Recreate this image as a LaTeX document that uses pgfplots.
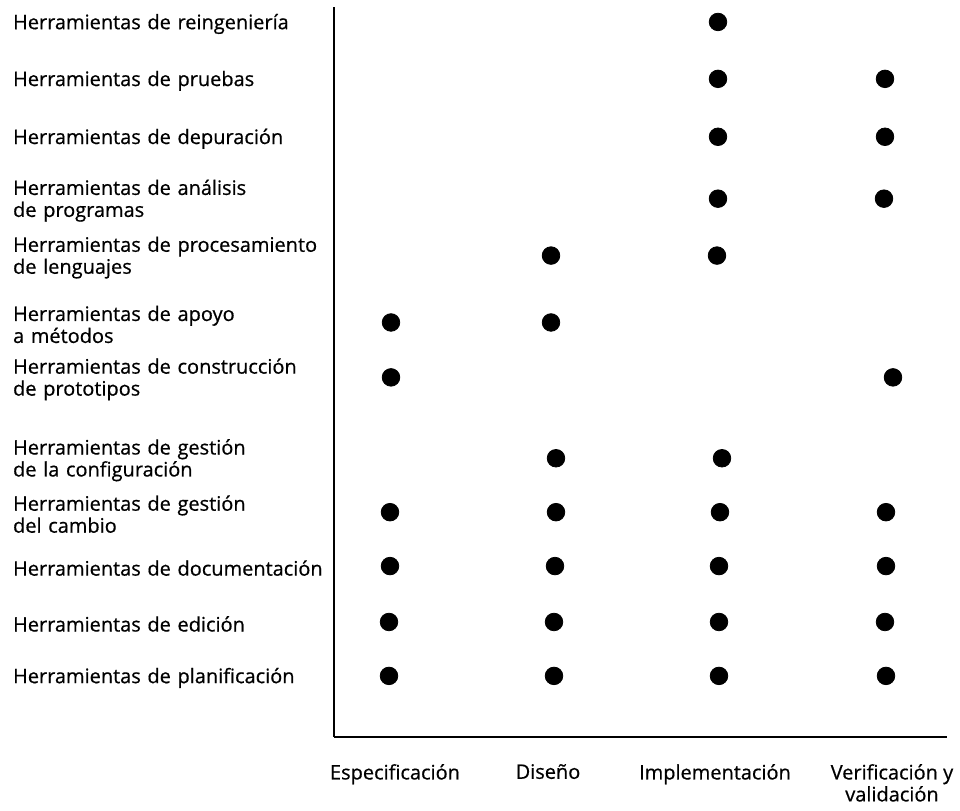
\documentclass[border=0pt]{standalone}
\usepackage{fontspec}
\setmainfont{Open Sans}[FakeBold=0.6]
\usepackage{pgfplots}
\pgfplotsset{compat=1.18}
\begin{document}
\begin{tikzpicture}
\begin{axis}[
  scale only axis,
  width=307pt, height=365.5pt,
  xmin=334, xmax=947, ymin=74, ymax=805,
  axis x line*=bottom, axis y line*=left,
  axis line style={line width=1pt, black, -},
  major tick length=0pt,
  clip=false,
  xtick={395,548,715,892},
  xticklabels={Especificación, Diseño, Implementación, {Verificación y\\validación}},
  xticklabel style={font=\fontsize{10}{11}\selectfont, align=center, anchor=north, inner sep=0pt, yshift=-13.5pt},
  ytick={788,731,673,611,554,487,432,351,297,243,187,133},
  yticklabels={
    Herramientas de reingeniería,
    Herramientas de pruebas,
    Herramientas de depuración,
    {Herramientas de análisis\\de programas},
    {Herramientas de procesamiento\\de lenguajes},
    {Herramientas de apoyo\\a métodos},
    {Herramientas de construcción\\de prototipos},
    {Herramientas de gestión\\de la configuración},
    {Herramientas de gestión\\del cambio},
    Herramientas de documentación,
    Herramientas de edición,
    Herramientas de planificación},
  yticklabel style={font=\fontsize{10}{11}\selectfont, text width=160.5pt, align=left, anchor=east, inner sep=0pt},
]
\addplot[only marks, mark=*, mark size=4.4pt, black] coordinates {
  (718,790)
  (718,733) (885,733)
  (718,675) (885,675)
  (718,613) (884,613)
  (551,556) (717,556)
  (391,489) (551,489)
  (391,434) (893,434)
  (556,353) (722,353)
  (390,299) (556,299) (720,299) (886,299)
  (390,245) (555,245) (719,245) (886,245)
  (389,189) (554,189) (719,189) (885,189)
  (389,135) (554,135) (719,135) (886,135)
};
\coordinate (bbA) at (axis cs:0,0);
\coordinate (bbB) at (axis cs:960,812);
\end{axis}
\path (bbA) rectangle (bbB);
\end{tikzpicture}
\end{document}
